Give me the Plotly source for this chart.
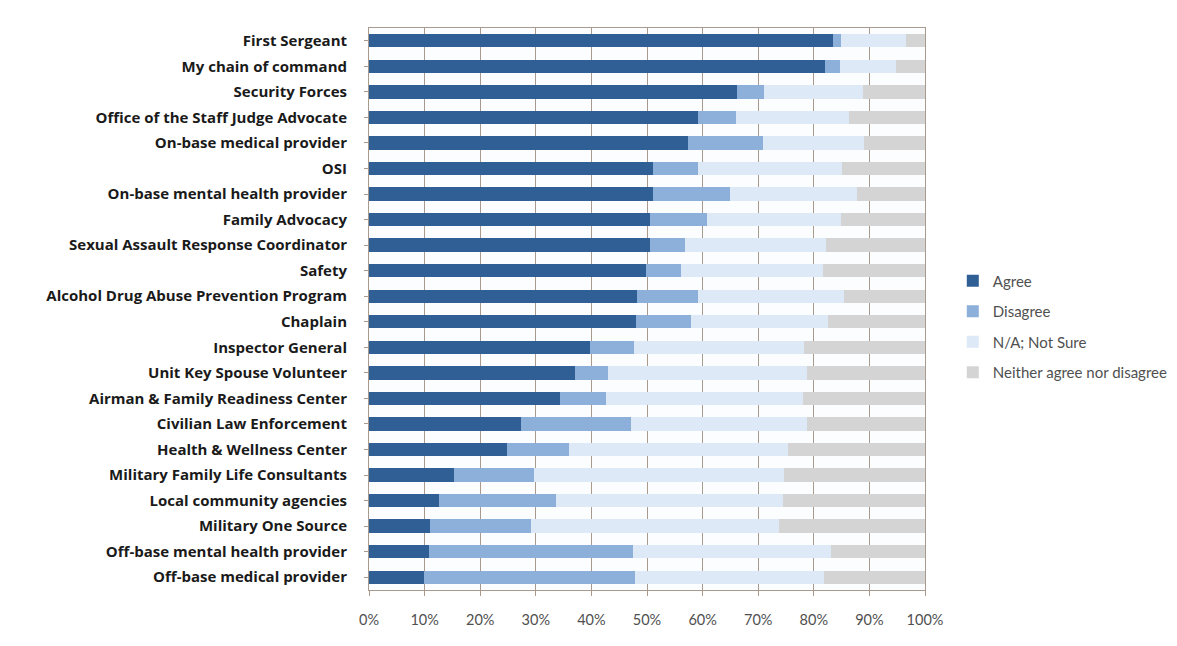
import plotly.graph_objects as go

categories = [
    "First Sergeant", "My chain of command", "Security Forces",
    "Office of the Staff Judge Advocate", "On-base medical provider", "OSI",
    "On-base mental health provider", "Family Advocacy",
    "Sexual Assault Response Coordinator", "Safety",
    "Alcohol Drug Abuse Prevention Program", "Chaplain", "Inspector General",
    "Unit Key Spouse Volunteer", "Airman & Family Readiness Center",
    "Civilian Law Enforcement", "Health & Wellness Center",
    "Military Family Life Consultants", "Local community agencies",
    "Military One Source", "Off-base mental health provider",
    "Off-base medical provider",
]

# cumulative boundaries (percent)
agree_end = [83.5, 82.0, 66.2, 59.2, 57.3, 51.0, 51.0, 50.5, 50.5, 49.9, 48.2, 48.0,
             39.7, 37.0, 34.3, 27.3, 24.9, 15.2, 12.5, 11.0, 10.8, 9.9]
disagree_end = [84.9, 84.7, 71.0, 66.0, 70.9, 59.2, 65.0, 60.8, 56.9, 56.2, 59.2, 57.9,
                47.7, 42.9, 42.7, 47.2, 35.9, 29.7, 33.7, 29.1, 47.5, 47.8]
na_end = [96.5, 94.7, 88.9, 86.3, 89.0, 85.1, 87.8, 84.9, 82.2, 81.7, 85.5, 82.5,
          78.3, 78.7, 78.0, 78.7, 75.3, 74.7, 74.5, 73.7, 83.1, 81.8]

agree = [round(a, 1) for a in agree_end]
disagree = [round(d - a, 1) for a, d in zip(agree_end, disagree_end)]
not_sure = [round(n - d, 1) for d, n in zip(disagree_end, na_end)]
neither = [round(100 - n, 1) for n in na_end]

series_names = ["Agree", "Disagree", "N/A; Not Sure", "Neither agree nor disagree"]
series_values = [agree, disagree, not_sure, neither]
series_colors = ["#2f5f95", "#8cb0da", "#dde9f6", "#d4d4d4"]

x_ticks = [0, 10, 20, 30, 40, 50, 60, 70, 80, 90, 100]
x_tick_labels = [f"{t}%" for t in x_ticks]

fig = go.Figure()
for i, (name, vals, col) in enumerate(zip(series_names, series_values, series_colors)):
    fig.add_trace(go.Bar(
        y=categories, x=vals, name=name, orientation="h",
        marker=dict(color=col, line=dict(width=0)),
        legendgroup=f"g{i}",
    ))

fig.update_layout(
    barmode="stack",
    bargap=0.48,
    width=1169, height=638,
    margin=dict(l=361, r=252, t=20, b=56, autoexpand=False),
    paper_bgcolor="white",
    plot_bgcolor="#fbfdff",
    font=dict(family="Lato", color="#333333"),
    showlegend=True,
    legend=dict(
        x=1.05, y=0.579, xanchor="left", yanchor="top",
        font=dict(size=15, color="#505050", family="Lato"),
        tracegroupgap=8,
        bgcolor="rgba(0,0,0,0)",
    ),
    xaxis=dict(
        range=[0, 100],
        tickvals=x_ticks, ticktext=x_tick_labels,
        showgrid=True, gridcolor="#a89a8c", gridwidth=1,
        zeroline=False,
        showline=True, linecolor="#a89a8c", linewidth=1, mirror=True,
        ticks="outside", ticklen=5, tickcolor="#a89a8c",
        tickfont=dict(size=14.5, color="#505050", family="Lato"),
        ticklabelstandoff=12,
        fixedrange=True,
    ),
    yaxis=dict(
        categoryorder="array", categoryarray=categories[::-1],
        showgrid=False,
        showline=True, linecolor="#a89a8c", linewidth=1, mirror=True,
        ticks="outside", ticklen=4, tickcolor="#a89a8c",
        tickfont=dict(size=15, color="#1a1a1a", family="Open Sans", weight="bold"),
        ticklabelstandoff=14,
        fixedrange=True,
    ),
)

fig.write_html("out.html")
